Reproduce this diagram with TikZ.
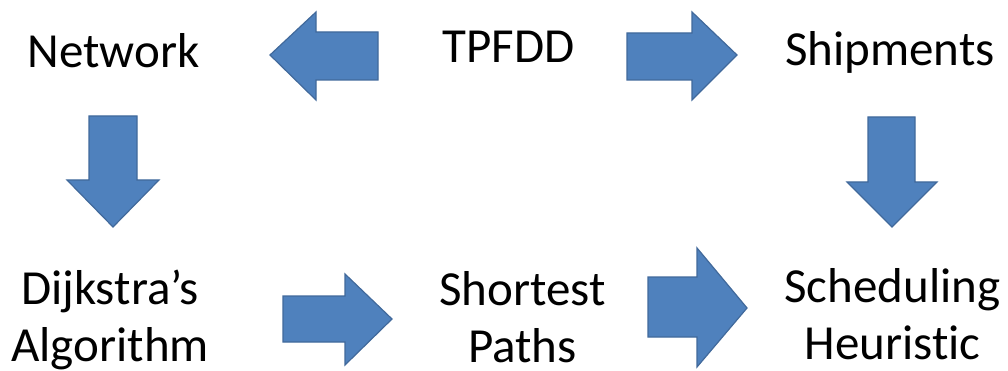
\documentclass[tikz,border=0pt]{standalone}
\usepackage{fontspec}
\setmainfont{Carlito}[Ligatures=NoCommon]
\begin{document}
\begin{tikzpicture}[x=1pt,y=-1pt,
  blockarrow/.style={fill=arrowblue,draw=arrowedge,line width=1.2pt,line join=miter},
  lbl/.style={font=\fontsize{49}{57}\selectfont,align=center,inner sep=0pt,anchor=base,text=black}]
\definecolor{arrowblue}{HTML}{4F81BD}
\definecolor{arrowedge}{HTML}{41699B}
\useasboundingbox (0,0) rectangle (1008,371);
% labels
\node[lbl] (tpfdd) at (508.5,63) {TPFDD};
\node[lbl] (network) at (113.5,68) {Network};
\node[lbl] (ship) at (890,66) {Shipments};
\node[lbl] (dijk) at (110,361) {Dijkstra’s\\Algorithm};
\node[lbl] (short) at (522.5,362) {Shortest\\Paths};
\node[lbl] (sched) at (892.5,359) {Scheduling\\Heuristic};
% block arrows
\draw[blockarrow] (270,55) -- (316,12) -- (316,32) -- (378,32) -- (378,80) -- (316,80) -- (316,100) -- cycle;
\draw[blockarrow] (737,55) -- (692,12) -- (692,33) -- (627,33) -- (627,80) -- (692,80) -- (692,100) -- cycle;
\draw[blockarrow] (89,116) -- (137,116) -- (137,180) -- (159,180) -- (113,227) -- (67,180) -- (89,180) -- cycle;
\draw[blockarrow] (868,117) -- (915,117) -- (915,182) -- (937,182) -- (892,227) -- (847,182) -- (868,182) -- cycle;
\draw[blockarrow] (283,296) -- (345,296) -- (345,274) -- (392,319) -- (345,365) -- (345,342) -- (283,342) -- cycle;
\draw[blockarrow] (648,277) -- (697,277) -- (697,248) -- (747,308) -- (697,367) -- (697,337) -- (648,337) -- cycle;
\end{tikzpicture}
\end{document}
